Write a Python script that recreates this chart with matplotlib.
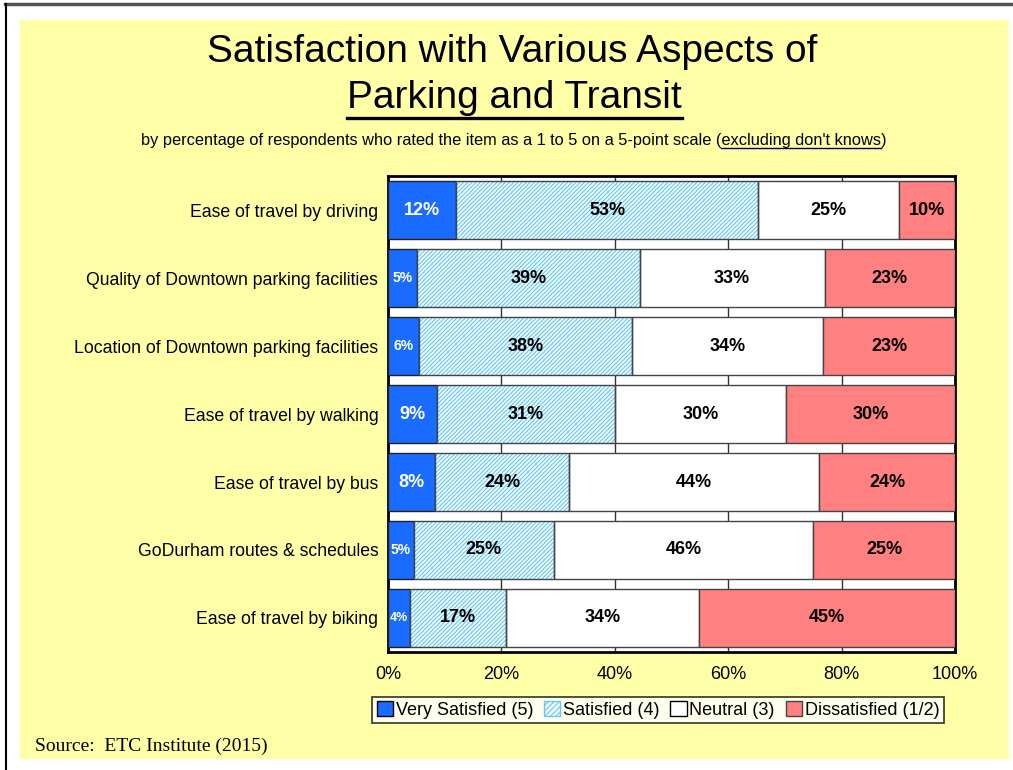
import numpy as np
import matplotlib
matplotlib.use("Agg")
import matplotlib.pyplot as plt
from matplotlib.patches import Rectangle, Patch
from matplotlib.lines import Line2D

plt.rcParams['font.family'] = ['Liberation Sans', 'DejaVu Sans']
plt.rcParams['hatch.linewidth'] = 0.8

categories = [
    "Ease of travel by driving",
    "Quality of Downtown parking facilities",
    "Location of Downtown parking facilities",
    "Ease of travel by walking",
    "Ease of travel by bus",
    "GoDurham routes & schedules",
    "Ease of travel by biking",
]
very_satisfied = [12.0, 5.1, 5.5, 8.6, 8.3, 4.6, 3.9]
satisfied = [53.3, 39.3, 37.6, 31.4, 23.6, 24.6, 16.9]
neutral = [24.8, 32.6, 33.6, 30.2, 44.1, 45.8, 34.1]
dissatisfied = [9.9, 23.0, 23.3, 29.8, 24.0, 25.0, 45.1]

series_names = ["Very Satisfied (5)", "Satisfied (4)", "Neutral (3)", "Dissatisfied (1/2)"]
x_ticks = [0, 20, 40, 60, 80, 100]

W, H = 1013, 770
fig = plt.figure(figsize=(W / 100, H / 100), dpi=100)
fig.patch.set_facecolor("white")

# page frame and yellow slide background
fig.add_artist(Rectangle((20 / W, 1 - 759 / H), 989 / W, 739 / H,
                         transform=fig.transFigure, facecolor="#ffffa8", edgecolor="none", zorder=0))
fig.add_artist(Line2D([5 / W, 1], [1 - 4 / H, 1 - 4 / H], transform=fig.transFigure,
                      color="#555555", lw=2.5))
fig.add_artist(Line2D([6 / W, 6 / W], [0, 1 - 4 / H], transform=fig.transFigure,
                      color="black", lw=1.5))

ax = fig.add_axes([388 / W, 1 - 652 / H, 567 / W, 476 / H])
ax.set_facecolor("white")

y = np.arange(len(categories))
h = 0.84
blue = "#1a6bff"
hatch_blue = "#66c8f2"
red = "#ff8080"

left = np.zeros(len(categories))
vs = np.array(very_satisfied)
ax.barh(y, vs, left=left, height=h, color=blue, edgecolor="#222222", lw=1, zorder=3)
left += vs
sa = np.array(satisfied)
ax.barh(y, sa, left=left, height=h, color="#f2fbff", edgecolor=hatch_blue, hatch="////////", lw=0, zorder=3)
ax.barh(y, sa, left=left, height=h, fill=False, edgecolor="#444444", lw=1, zorder=4)
left_sa = left.copy()
left += sa
ne = np.array(neutral)
ax.barh(y, ne, left=left, height=h, color="white", edgecolor="#444444", lw=1, zorder=3)
left_ne = left.copy()
left += ne
di = np.array(dissatisfied)
ax.barh(y, di, left=left, height=h, color=red, edgecolor="#444444", lw=1, zorder=3)
left_di = left.copy()

# value labels
starts = [np.zeros(len(categories)), left_sa, left_ne, left_di]
vals = [vs, sa, ne, di]
for k in range(4):
    for i in range(len(categories)):
        v = vals[k][i]
        cx = starts[k][i] + v / 2
        col = "white" if k == 0 else "black"
        fs = 13 if v >= 7 else (10 if v >= 4.2 else 9)
        ax.text(cx, y[i], f"{v:.0f}%", ha="center", va="center", color=col,
                fontsize=fs, fontweight="bold", zorder=5)

ax.set_xlim(0, 100)
ax.set_ylim(len(categories) - 0.5, -0.5)
ax.set_xticks(x_ticks)
ax.set_xticklabels([f"{t}%" for t in x_ticks], fontsize=13)
ax.set_yticks(y)
ax.set_yticklabels(categories, fontsize=12.7)
ax.tick_params(axis="x", length=0, pad=10)
ax.tick_params(axis="y", length=0, pad=7)
ax.xaxis.grid(True, color="#333333", lw=1, zorder=1)
ax.set_axisbelow(True)
for s in ax.spines.values():
    s.set_linewidth(2)
    s.set_color("black")

# legend
handles = [
    Patch(facecolor=blue, edgecolor="black"),
    Patch(facecolor="#f2fbff", edgecolor=hatch_blue, hatch="//////"),
    Patch(facecolor="white", edgecolor="black"),
    Patch(facecolor=red, edgecolor="#444444"),
]
leg = fig.legend(handles, series_names, loc="center", bbox_to_anchor=(658 / W, 1 - 710 / H),
                 ncol=4, fontsize=13, frameon=True, fancybox=False, edgecolor="black",
                 handlelength=0.9, handleheight=0.9, handletextpad=0.15, columnspacing=0.6,
                 borderpad=0.25, borderaxespad=0)
leg.get_frame().set_linewidth(1.2)

# titles
t1 = fig.text(0.506, 1 - 52 / H, "Satisfaction with Various Aspects of", ha="center", va="center",
              fontsize=28)
t2 = fig.text(0.508, 1 - 98 / H, "Parking and Transit", ha="center", va="center", fontsize=28)
sub_pre = "by percentage of respondents who rated the item as a 1 to 5 on a 5-point scale ("
sub_ul = "excluding don't knows"
sub = fig.text(0.507, 1 - 141 / H, sub_pre + sub_ul + ")", ha="center", va="center", fontsize=11.8)

fig.text(35 / W, 1 - 746 / H, "Source:  ETC Institute (2015)", ha="left", va="center",
         fontsize=14, family=["Liberation Serif", "DejaVu Serif"])

# underlines
fig.canvas.draw()
r = fig.canvas.get_renderer()
bb = t2.get_window_extent(r)
yl = bb.y0 - 2
fig.add_artist(Line2D([bb.x0 / W, bb.x1 / W], [yl / H, yl / H], transform=fig.transFigure,
                      color="black", lw=2.4))
bs = sub.get_window_extent(r)
tmp = fig.text(0, 0, sub_pre, fontsize=11.8)
wpre = tmp.get_window_extent(r).width
tmp2 = fig.text(0, 0, sub_ul, fontsize=11.8)
wul = tmp2.get_window_extent(r).width
tmp.remove()
tmp2.remove()
yu = bs.y0 + 1
fig.add_artist(Line2D([(bs.x0 + wpre) / W, (bs.x0 + wpre + wul) / W], [yu / H, yu / H],
                      transform=fig.transFigure, color="black", lw=1))

fig.savefig("out.png", dpi=100, facecolor="white")
